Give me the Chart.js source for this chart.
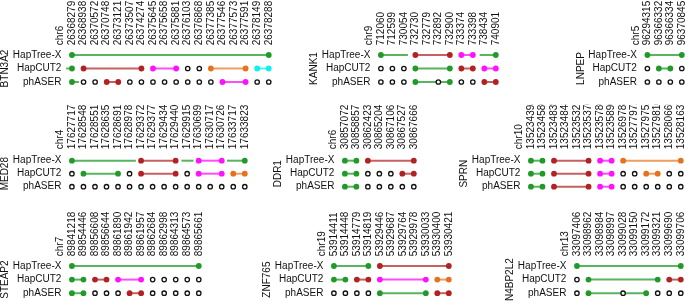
<!DOCTYPE html>
<html>
<head>
<meta charset="utf-8">
<script src="https://cdn.jsdelivr.net/npm/chart.js@4.4.1/dist/chart.umd.min.js"></script>
<style>
  body { margin: 0; background: #fff; }
  #wrap { position: relative; width: 685px; height: 301px; overflow: hidden; }
  #wrap canvas { position: absolute; }
</style>
</head>
<body>
<div id="wrap"></div>
<script>
const methods = ["HapTree-X", "HapCUT2", "phASER"];

// marks per row: g/r/m/n/c = phased SNP (block colour), o = unphased, - = nothing
// blocks: [row, colour, from index, to index]
const btn3a2Pos = [26368279, 26368938, 26370572, 26370748, 26373121, 26373507, 26374274, 26375645, 26375658,
  26375881, 26376103, 26376868, 26377385, 26377546, 26377573, 26377591, 26378149, 26378288];
const btn3a2Marks = ["g----------------g", "gr----rm-moon--ncc", "goorroooooooom-moo"];
const btn3a2Blocks = [[0, "g", 0, 17], [1, "g", -0.5, 0], [1, "r", 1, 6], [1, "m", 7, 9], [1, "n", 12, 15],
  [1, "c", 16, 17], [2, "g", 0, 0.6], [2, "r", 3, 4], [2, "m", 13, 15]];

const kank1Pos = [712060, 712599, 730054, 732730, 732779, 732892, 732900, 733374, 733398, 738434, 740901];
const kank1Marks = ["g--r--rmm-g", "ooog--grrmm", "ooog-ogoorr"];
const kank1Blocks = [[0, "g", 0, 2.35], [0, "r", 3, 6], [0, "m", 7, 8], [0, "g", 8.6, 10],
  [1, "g", 3, 6], [1, "r", 7, 8], [1, "m", 9, 10], [2, "g", 3, 6], [2, "r", 9, 10]];

const lnpepPos = [96294315, 96366332, 96366334, 96370845];
const lnpepMarks = ["g--g", "oggo", "oooo"];
const lnpepBlocks = [[0, "g", 0, 3], [1, "g", 1, 2]];

const med28Pos = [17627717, 17628548, 17628551, 17628635, 17628691, 17628978, 17629372, 17629377, 17629434,
  17629440, 17629915, 17630699, 17630717, 17630726, 17633717, 17633823];
const med28Marks = ["g-----r--r-m-m-g", "og--gor--rom-mnn", "oooooooooooooooo"];
const med28Blocks = [[0, "g", 0, 5.55], [0, "r", 6, 9], [0, "g", 9.5, 10.55], [0, "m", 11, 13], [0, "g", 13.45, 15],
  [1, "g", 1, 4], [1, "r", 6, 9], [1, "m", 11, 13], [1, "n", 14, 15]];

const ddr1Pos = [30857072, 30858857, 30862423, 30865204, 30867106, 30867527, 30867666];
const ddr1Marks = ["ggr---r", "ggooorr", "ggooooo"];
const ddr1Blocks = [[0, "g", 0, 1], [0, "r", 2, 6], [1, "g", 0, 1], [1, "r", 5, 6], [2, "g", 0, 1]];

const sprnPos = [135234393, 135234580, 135234839, 135234848, 135235321, 135235370, 135235780, 135235890,
  135269788, 135277972, 135279752, 135279810, 135280665, 135281637];
const sprnMarks = ["ggr--rmmn----n", "ggr--rmmoonnoo", "ggr--rmmoooooo"];
const sprnBlocks = [[0, "g", 0, 1], [0, "r", 2, 5], [0, "m", 6, 7], [0, "n", 8, 13],
  [1, "g", 0, 1], [1, "r", 2, 5], [1, "m", 6, 7], [1, "n", 10, 11],
  [2, "g", 0, 1], [2, "r", 2, 5], [2, "m", 6, 7]];

const steap2Pos = [89841218, 89854446, 89856608, 89856644, 89861890, 89861942, 89861957, 89862684,
  89862998, 89864313, 89864573, 89865661];
const steap2Marks = ["g----------g", "ggrrm-mooooo", "ggooorrooooo"];
const steap2Blocks = [[0, "g", 0, 11], [1, "g", 0, 1], [1, "r", 2, 3], [1, "m", 4, 6], [2, "g", 0, 1], [2, "r", 5, 6]];

const znf765Pos = [53914411, 53914448, 53914779, 53914819, 53929446, 53929687, 53929764, 53929978,
  53930033, 53930400, 53930421];
const znf765Marks = ["g--gr-----r", "ggrrm---mnn", "oooog---grr"];
const znf765Blocks = [[0, "g", 0, 3], [0, "r", 4, 10], [1, "g", 0, 1], [1, "r", 2, 3], [1, "m", 4, 8],
  [1, "n", 9, 10], [2, "g", 4, 8], [2, "r", 9, 10]];

const n4bp2l2Pos = [33097406, 33098962, 33098984, 33098997, 33099028, 33099150, 33099172, 33099321,
  33099690, 33099706];
const n4bp2l2Marks = ["g--------g", "og-----grr", "og--o-gooo"];
const n4bp2l2Blocks = [[0, "g", 0, 9], [1, "g", 1, 7], [1, "r", 8, 9], [2, "g", 1, 6]];

const COLORS = { g: "#229a2a", r: "#b22222", m: "#ff10ff", n: "#e8721c", c: "#10f0f0" };
const LINES = { g: "rgba(34,154,42,0.75)", r: "rgba(178,34,34,0.72)", m: "rgba(255,16,255,0.75)",
  n: "rgba(232,114,28,0.7)", c: "rgba(16,240,240,0.75)" };
const TEXT = "#111";
const FONT = { size: 10, family: "'Liberation Sans', Arial, sans-serif" };

// layout of the 3x3 grid
const DX = 11.6, HX = 50, WY = 62;
const rowLayout = [
  { y0: 55, s: 13.5, pad: 3 },
  { y0: 160.7, s: 13, pad: 5 },
  { y0: 266, s: 13.6, pad: 3 }
];
const panels = [
  { gene: "BTN3A2", chr: "chr6", pos: btn3a2Pos, marks: btn3a2Marks, blocks: btn3a2Blocks, x0: 72, row: 0 },
  { gene: "KANK1", chr: "chr9", pos: kank1Pos, marks: kank1Marks, blocks: kank1Blocks, x0: 381, row: 0 },
  { gene: "LNPEP", chr: "chr5", pos: lnpepPos, marks: lnpepMarks, blocks: lnpepBlocks, x0: 647.5, row: 0 },
  { gene: "MED28", chr: "chr4", pos: med28Pos, marks: med28Marks, blocks: med28Blocks, x0: 72, row: 1 },
  { gene: "DDR1", chr: "chr6", pos: ddr1Pos, marks: ddr1Marks, blocks: ddr1Blocks, x0: 345, row: 1 },
  { gene: "SPRN", chr: "chr10", pos: sprnPos, marks: sprnMarks, blocks: sprnBlocks, x0: 531, row: 1 },
  { gene: "STEAP2", chr: "chr7", pos: steap2Pos, marks: steap2Marks, blocks: steap2Blocks, x0: 72, row: 2 },
  { gene: "ZNF765", chr: "chr19", pos: znf765Pos, marks: znf765Marks, blocks: znf765Blocks, x0: 334, row: 2 },
  { gene: "N4BP2L2", chr: "chr13", pos: n4bp2l2Pos, marks: n4bp2l2Marks, blocks: n4bp2l2Blocks, x0: 577, row: 2 }
];

const wrap = document.getElementById("wrap");

const drawPanel = (p) => {
  const lay = rowLayout[p.row];
  const n = p.pos.length;
  // chart area starts where the row labels end, just right of the chr label
  const xmin = -1 + 1 / DX, xmax = n - 0.4;
  const chartW = (xmax - xmin) * DX;
  const chartH = 3 * lay.s;
  const chartLeft = p.x0 + xmin * DX;
  const chartTop = lay.y0 - 0.5 * lay.s;
  const left = Math.floor(chartLeft - WY), top = Math.floor(chartTop - HX);
  const padL = chartLeft - WY - left, padT = chartTop - HX - top;
  const W = Math.ceil(padL + WY + chartW + 4), H = Math.ceil(padT + HX + chartH + 6);

  const canvas = document.createElement("canvas");
  canvas.width = W; canvas.height = H;
  canvas.style.left = left + "px"; canvas.style.top = top + "px";
  wrap.appendChild(canvas);

  const datasets = [];
  p.blocks.forEach(([r, c, a, b]) => {
    datasets.push({ data: [{ x: a, y: r }, { x: b, y: r }], showLine: true, borderColor: LINES[c],
      borderWidth: 2, pointRadius: 0, order: 2, clip: false });
  });
  const open = [];
  const dots = {};
  p.marks.forEach((row, r) => {
    [...row].forEach((m, i) => {
      if (m === "o") open.push({ x: i, y: r });
      else if (m !== "-") (dots[m] = dots[m] || []).push({ x: i, y: r });
    });
  });
  datasets.push({ data: open, pointRadius: 2.2, backgroundColor: "#fff", borderColor: TEXT,
    borderWidth: 1.3, order: 1, clip: false });
  Object.keys(dots).forEach(c => {
    datasets.push({ data: dots[c], pointRadius: 2.9, backgroundColor: COLORS[c], borderWidth: 0,
      order: 0, clip: false });
  });

  new Chart(canvas, {
    type: "scatter",
    data: { datasets },
    options: {
      responsive: false,
      animation: false,
      events: [],
      layout: { padding: { left: padL, top: padT, right: W - padL - WY - chartW, bottom: H - padT - HX - chartH } },
      plugins: { legend: { display: false }, tooltip: { enabled: false } },
      scales: {
        x: {
          type: "linear", position: "top", min: xmin, max: xmax, bounds: "data",
          grid: { display: false, drawTicks: false, tickLength: 0 }, border: { display: false },
          afterBuildTicks: s => { s.ticks = [-1, ...p.pos.map((_, i) => i)].map(v => ({ value: v })); },
          afterFit: s => { s.height = HX; },
          ticks: {
            autoSkip: false, minRotation: 90, maxRotation: 90, padding: lay.pad, labelOffset: 12,
            color: TEXT, font: FONT,
            callback: v => v === -1 ? p.chr : String(p.pos[v])
          }
        },
        y: {
          type: "linear", min: -0.5, max: 2.5, reverse: true,
          grid: { display: false, drawTicks: false, tickLength: 0 }, border: { display: false },
          afterBuildTicks: s => { s.ticks = [0, 1, 2].map(v => ({ value: v })); },
          afterFit: s => { s.width = WY; },
          ticks: { padding: 0, color: TEXT, font: FONT, callback: v => methods[v] },
          title: { display: true, text: p.gene, color: TEXT, font: FONT, padding: { top: 0, bottom: 0 } }
        }
      }
    }
  });
};

panels.forEach(drawPanel);
</script>
</body>
</html>
